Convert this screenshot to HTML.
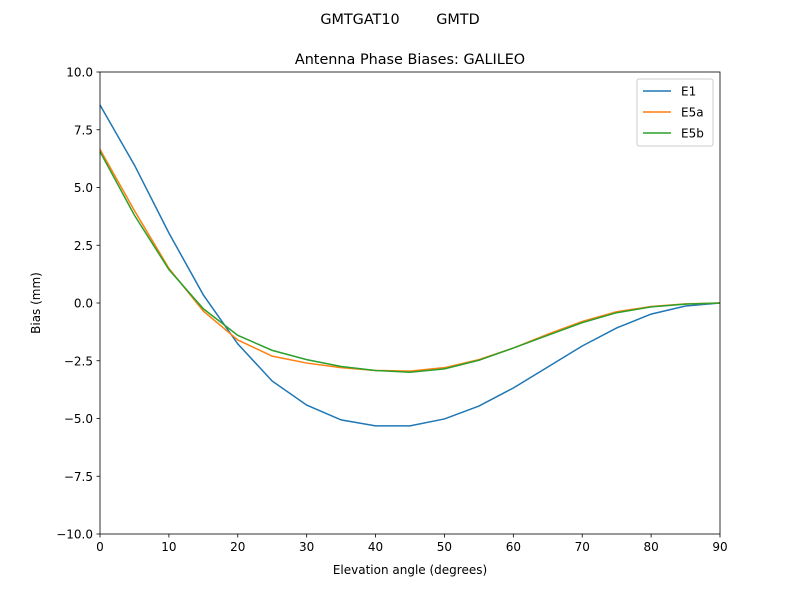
<!DOCTYPE html>
<html><head><meta charset="utf-8"><style>
body{margin:0;background:#fff;}
svg{display:block;font-family:"DejaVu Sans","Liberation Sans",sans-serif;}
</style></head><body>
<svg id="chart" width="800" height="600" viewBox="0 0 800 600">
<rect width="800" height="600" fill="#fff"/>
<text x="400" y="24" font-size="14.4" text-anchor="middle" xml:space="preserve">GMTGAT10        GMTD</text>
<text x="410" y="64" font-size="14.4" text-anchor="middle">Antenna Phase Biases: GALILEO</text>
<g id="ticks"></g>
<g id="lines"></g>
<rect x="100" y="72" width="620" height="462" fill="none" stroke="#000" stroke-width="0.8"/>
<text x="410" y="574" font-size="12" text-anchor="middle">Elevation angle (degrees)</text>
<text transform="translate(40,303) rotate(-90)" font-size="12" text-anchor="middle">Bias (mm)</text>
<g id="legend">
<rect x="637" y="79" width="76" height="67" fill="#fff" fill-opacity="0.8" stroke="#ccc" rx="2"/>
</g>
</svg>
<script>
const elevations=[0,5,10,15,20,25,30,35,40,45,50,55,60,65,70,75,80,85,90];
const e1=[8.57,5.97,3.03,0.35,-1.77,-3.38,-4.42,-5.06,-5.32,-5.32,-5.02,-4.46,-3.68,-2.77,-1.86,-1.08,-0.48,-0.13,0];
const e5a=[6.65,4.0,1.5,-0.35,-1.6,-2.3,-2.6,-2.8,-2.92,-2.95,-2.8,-2.45,-1.95,-1.35,-0.8,-0.38,-0.15,-0.04,0];
const e5b=[6.55,3.8,1.45,-0.25,-1.4,-2.05,-2.45,-2.75,-2.92,-3.0,-2.85,-2.48,-1.95,-1.4,-0.85,-0.42,-0.17,-0.05,0];
const xTicks=[0,10,20,30,40,50,60,70,80,90];
const yTicks=[10,7.5,5,2.5,0,-2.5,-5,-7.5,-10];
const seriesNames=["E1","E5a","E5b"];
const NS="http://www.w3.org/2000/svg";
const X=v=>100+(v/90)*620, Y=v=>72+(10-v)/20*462;
function mk(t,a,p){const e=document.createElementNS(NS,t);for(const k in a)e.setAttribute(k,a[k]);p.appendChild(e);return e;}
const tg=document.getElementById('ticks');
xTicks.forEach(v=>{const x=X(v);
 const l=mk('line',{x1:x,x2:x,y1:534,y2:537.5,stroke:'#000','stroke-width':0.8},tg);
 
 const t=mk('text',{x:x,y:551,'font-size':12,'text-anchor':'middle'},tg);t.textContent=v;
 });
yTicks.forEach(v=>{const y=Y(v);
 const l=mk('line',{x1:96.5,x2:100,y1:y,y2:y,stroke:'#000','stroke-width':0.8},tg);
 
 const t=mk('text',{x:93,y:y+4.5,'font-size':12,'text-anchor':'end'},tg);t.textContent=(v<0?'\u2212':'')+Math.abs(v).toFixed(1);
 });
const colors=['#1f77b4','#ff7f0e','#2ca02c'];
const lg=document.getElementById('lines');
[e1,e5a,e5b].forEach((s,i)=>{
 const p=mk('polyline',{points:s.map((v,j)=>X(elevations[j])+','+Y(v)).join(' '),fill:'none',stroke:colors[i],'stroke-width':1.5},lg);
 
});
const leg=document.getElementById('legend');
seriesNames.forEach((n,i)=>{const y=91+i*21;
 const l=mk('line',{x1:643,x2:671,y1:y,y2:y,stroke:colors[i],'stroke-width':1.5},leg);
 
 const t=mk('text',{x:681,y:y+4.5,'font-size':12},leg);t.textContent=n;
 });
</script>
</body></html>
